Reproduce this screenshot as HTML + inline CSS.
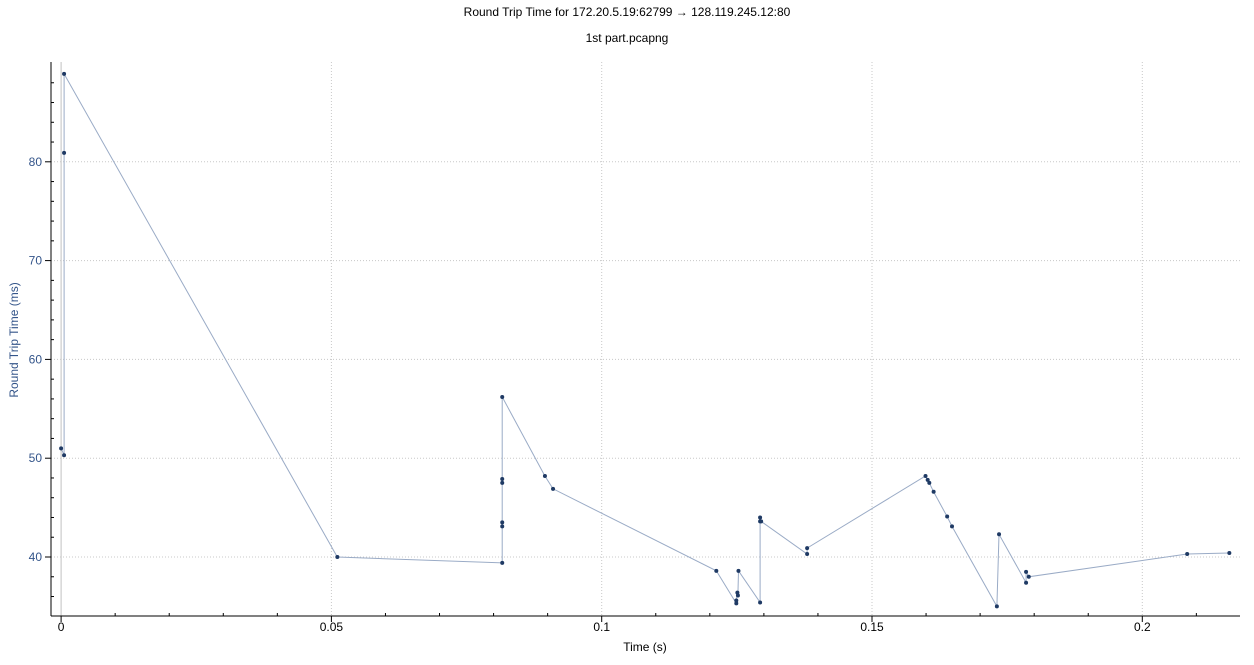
<!DOCTYPE html>
<html><head><meta charset="utf-8"><style>
body{margin:0;background:#fff;width:1254px;height:660px;overflow:hidden;font-family:"Liberation Sans",sans-serif}
</style></head><body>
<svg id="chart" width="1254" height="660" xmlns="http://www.w3.org/2000/svg" font-family="Liberation Sans, sans-serif">
<text x="627" y="16" font-size="12" text-anchor="middle" fill="#000">Round Trip Time for 172.20.5.19:62799 → 128.119.245.12:80</text>
<text x="627" y="42" font-size="12" text-anchor="middle" fill="#000">1st part.pcapng</text>
<text transform="translate(18,340) rotate(-90)" font-size="12" text-anchor="middle" fill="#34558a">Round Trip Time (ms)</text>
<text x="645" y="651" font-size="12" text-anchor="middle" fill="#000">Time (s)</text>
<g id="grid"></g><g id="axes"></g><g id="series"></g>
</svg>
<script>
const times=[0.0000,0.00055,0.00055,0.00055,0.0511,0.0816,0.0816,0.0816,0.0816,0.0816,0.0816,0.0895,0.0910,0.1212,0.1249,0.1249,0.1251,0.1252,0.1253,0.1293,0.1293,0.1293,0.1295,0.1380,0.1380,0.1599,0.1603,0.1606,0.1614,0.1639,0.1648,0.1731,0.1735,0.1785,0.1785,0.1790,0.2083,0.2161];
const rtts=[51.0,50.3,80.9,88.9,40.0,39.4,43.1,43.5,47.5,47.9,56.2,48.2,46.9,38.6,35.3,35.6,36.4,36.1,38.6,35.4,44.0,43.6,43.6,40.3,40.9,48.2,47.8,47.5,46.6,44.1,43.1,35.0,42.3,37.4,38.5,38.0,40.3,40.4];
const xTicks=[0,0.05,0.1,0.15,0.2];
const xTickLabels=["0","0.05","0.1","0.15","0.2"];
const yTicks=[40,50,60,70,80];
const yTickLabels=["40","50","60","70","80"];
const NS="http://www.w3.org/2000/svg";
const L=51,R=1240,T=62,B=616;
const X=t=>61.1+t*5406;
const Y=v=>557-(v-40)*9.88;
function mk(tag,attrs,parent){const e=document.createElementNS(NS,tag);for(const k in attrs)e.setAttribute(k,attrs[k]);document.getElementById(parent).appendChild(e);return e;}
xTicks.forEach((t,i)=>{
  const g=mk('line',{x1:X(t),x2:X(t),y1:T,y2:B,stroke:i==0?'#c0c0c0':'#c8c8c8','stroke-dasharray':i==0?'':'1,2'},'grid');
  
  
  const tk=mk('line',{x1:X(t),x2:X(t),y1:B,y2:B+6,stroke:'#000'},'axes');
  
  
  const lb=mk('text',{x:X(t),y:B+15,'font-size':12,'text-anchor':'middle',fill:'#000'},'axes');
  lb.textContent=xTickLabels[i];
  
  
});
for(let t=0.01;t<0.22;t+=0.01){if(Math.abs(t*20-Math.round(t*20))<1e-6)continue;
  const m=mk('line',{x1:X(t),x2:X(t),y1:B,y2:B-3,stroke:'#000'},'axes');
  
  }
yTicks.forEach((v,i)=>{
  const g=mk('line',{x1:L,x2:R,y1:Y(v),y2:Y(v),stroke:'#c8c8c8','stroke-dasharray':'1,2'},'grid');
  
  
  const tk=mk('line',{x1:L-6,x2:L,y1:Y(v),y2:Y(v),stroke:'#000'},'axes');
  
  
  const lb=mk('text',{x:L-9,y:Y(v)+4,'font-size':12,'text-anchor':'end',fill:'#34558a'},'axes');
  lb.textContent=yTickLabels[i];
  
  
});
for(let v=36;v<=90;v+=2){if(v%10==0)continue;
  const m=mk('line',{x1:L,x2:L+3,y1:Y(v),y2:Y(v),stroke:'#000'},'axes');
  
  }
const ya=mk('line',{x1:L,x2:L,y1:T,y2:B,stroke:'#000'},'axes');


const xa=mk('line',{x1:L,x2:R,y1:B,y2:B,stroke:'#000'},'axes');


const pts=times.map((t,i)=>X(t).toFixed(1)+','+Y(rtts[i]).toFixed(1)).join(' ');
const pl=mk('polyline',{points:pts,fill:'none',stroke:'#9aabc6','stroke-width':1},'series');


times.forEach((t,i)=>{
  const c=mk('circle',{cx:X(t),cy:Y(rtts[i]),r:2,fill:'#1f3a64'},'series');
  
  
});
</script>
</body></html>
